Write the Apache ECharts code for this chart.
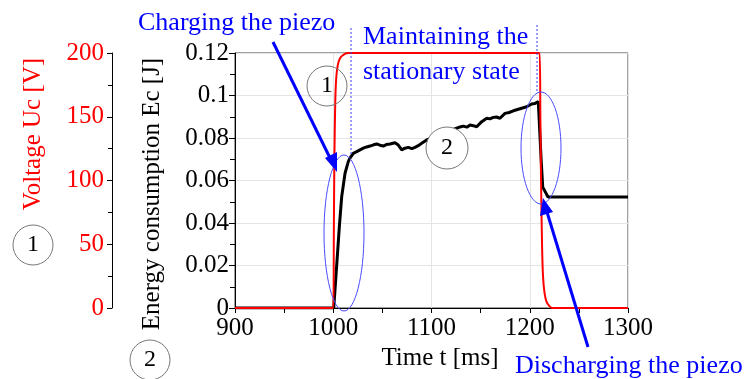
<!DOCTYPE html>
<html>
<head>
<meta charset="utf-8">
<script src="https://cdn.jsdelivr.net/npm/echarts@6/dist/echarts.min.js"></script>
<style>
  html, body { margin: 0; padding: 0; background: #fff; }
  #chart { width: 744px; height: 379px; }
</style>
</head>
<body>
<div id="chart"></div>
<script>
// time [ms] and voltage Uc [V]
const voltTime = [900, 1000, 1000.6, 1001.2, 1002, 1003, 1004.5, 1007, 1011, 1016,
  1210, 1210.8, 1211.5, 1212.5, 1213.5, 1215, 1217, 1220, 1223, 1300];
const voltValue = [0, 0, 60, 120, 160, 180, 190, 196, 199, 200,
  200, 150, 100, 50, 25, 12, 5, 1.5, 0, 0];

// time [ms] and energy consumption Ec [J]
const energyTime = [900, 1000.5, 1001.8, 1004.1, 1006.2, 1008.6, 1012, 1015.3, 1017, 1020.4, 1023.9,
  1030.6, 1034, 1037.4, 1041, 1044.2, 1047.5, 1050.9, 1054, 1057.8, 1062.8, 1066.2, 1069.7, 1073,
  1076.4, 1080, 1083.2, 1086.5, 1090, 1095.1, 1110, 1125.6, 1129, 1132.4, 1136, 1139.2, 1142.5,
  1146, 1151.1, 1156.2, 1159.5, 1162.9, 1166, 1169.7, 1174.8, 1179, 1183.3, 1187.5, 1191.8,
  1196.9, 1202, 1205, 1208.7, 1210.4, 1211.5, 1213.2, 1218.6, 1300];
const energyValue = [0, 0, 0.0006, 0.0241, 0.0383, 0.0524, 0.0634, 0.0689, 0.0705, 0.0728, 0.0736,
  0.0752, 0.0758, 0.0762, 0.0768, 0.0772, 0.0766, 0.0762, 0.0769, 0.0772, 0.0778, 0.0767, 0.0744, 0.0752,
  0.0756, 0.0750, 0.0756, 0.0764, 0.0775, 0.0791, 0.0818, 0.0846, 0.0852, 0.0856, 0.0851, 0.0861, 0.0858,
  0.0853, 0.0877, 0.0893, 0.0890, 0.0897, 0.0899, 0.0893, 0.0916, 0.0920, 0.0928, 0.0934, 0.0940,
  0.0947, 0.0960, 0.0962, 0.0971, 0.0966, 0.0706, 0.0569, 0.0522, 0.0522];

const xTicks = [900, 1300, 100];
const energyTicks = [0, 0.12, 0.02];
const voltTicks = [0, 200, 50];

const FONT = 'Liberation Serif';
const pairs = (xs, ys) => xs.map((x, i) => [x, ys[i]]);

const chart = echarts.init(document.getElementById('chart'));

chart.setOption({
  animation: false,
  textStyle: { fontFamily: FONT },
  grid: {
    left: 235, right: 116, top: 53, bottom: 71,
    show: true, borderColor: '#444', borderWidth: 1
  },
  xAxis: {
    type: 'value',
    min: xTicks[0], max: xTicks[1], interval: xTicks[2],
    axisLine: { lineStyle: { color: '#000', width: 1 } },
    axisTick: { length: 5, lineStyle: { color: '#000' } },
    minorTick: { show: true, splitNumber: 2, length: 5, lineStyle: { color: '#000' } },
    axisLabel: { color: '#000', fontSize: 25, fontFamily: FONT, margin: 8, formatter: v => String(v) },
    splitLine: { lineStyle: { color: '#e4e4e4' } }
  },
  yAxis: [
    {
      type: 'value',
      position: 'left',
      min: energyTicks[0], max: energyTicks[1], interval: energyTicks[2],
      axisLine: { show: true, lineStyle: { color: '#000', width: 1 } },
      axisTick: { show: true, length: 6, lineStyle: { color: '#000' } },
      minorTick: { show: true, splitNumber: 2, length: 5, lineStyle: { color: '#000' } },
      axisLabel: { color: '#000', fontSize: 25, fontFamily: FONT, margin: 6 },
      splitLine: { lineStyle: { color: '#e4e4e4' } }
    },
    {
      type: 'value',
      position: 'left',
      offset: 123,
      min: voltTicks[0], max: voltTicks[1], interval: voltTicks[2],
      axisLine: { show: true, lineStyle: { color: '#000', width: 1 } },
      axisTick: { show: true, length: 5, lineStyle: { color: '#000' } },
      minorTick: { show: true, splitNumber: 2, length: 4, lineStyle: { color: '#000' } },
      axisLabel: { color: '#ff0000', fontSize: 25, fontFamily: FONT, margin: 8 },
      splitLine: { show: false }
    }
  ],
  series: [
    {
      name: 'Energy',
      type: 'line',
      yAxisIndex: 0,
      data: pairs(energyTime, energyValue),
      showSymbol: false,
      lineStyle: { color: '#000', width: 3 },
      z: 2
    },
    {
      name: 'Voltage',
      type: 'line',
      yAxisIndex: 1,
      data: pairs(voltTime, voltValue),
      showSymbol: false,
      smooth: 0.3,
      lineStyle: { color: '#ff0000', width: 2 },
      z: 3
    }
  ],
  graphic: [
    // axis titles
    { type: 'text', x: 33, y: 134, rotation: Math.PI / 2, z: 10,
      style: { text: 'Voltage Uc [V]', font: '25px ' + FONT, fill: '#ff0000', align: 'center', verticalAlign: 'middle' } },
    { type: 'text', x: 152, y: 194, rotation: Math.PI / 2, z: 10,
      style: { text: 'Energy consumption Ec [J]', font: '25px ' + FONT, fill: '#000', align: 'center', verticalAlign: 'middle' } },
    { type: 'text', x: 440, y: 358, z: 10,
      style: { text: 'Time t [ms]', font: '25px ' + FONT, fill: '#000', align: 'center', verticalAlign: 'middle' } },

    // circled numbers
    { type: 'circle', shape: { cx: 33, cy: 245, r: 20 }, z: 10, style: { fill: 'transparent', stroke: '#777', lineWidth: 1 } },
    { type: 'text', x: 33, y: 245, z: 11, style: { text: '1', font: '24px ' + FONT, fill: '#000', align: 'center', verticalAlign: 'middle' } },
    { type: 'circle', shape: { cx: 150, cy: 360, r: 20 }, z: 10, style: { fill: 'transparent', stroke: '#777', lineWidth: 1 } },
    { type: 'text', x: 150, y: 360, z: 11, style: { text: '2', font: '24px ' + FONT, fill: '#000', align: 'center', verticalAlign: 'middle' } },
    { type: 'circle', shape: { cx: 327, cy: 86, r: 20 }, z: 10, style: { fill: 'transparent', stroke: '#777', lineWidth: 1 } },
    { type: 'text', x: 327, y: 86, z: 11, style: { text: '1', font: '24px ' + FONT, fill: '#000', align: 'center', verticalAlign: 'middle' } },
    { type: 'circle', shape: { cx: 447, cy: 148, r: 21 }, z: 10, style: { fill: '#fff', stroke: '#777', lineWidth: 1 } },
    { type: 'text', x: 447, y: 148, z: 11, style: { text: '2', font: '24px ' + FONT, fill: '#000', align: 'center', verticalAlign: 'middle' } },

    // ellipses
    { type: 'ellipse', shape: { cx: 344, cy: 233, rx: 20, ry: 78 }, z: 10, style: { fill: 'transparent', stroke: '#4a4aff', lineWidth: 1 } },
    { type: 'ellipse', shape: { cx: 541, cy: 148, rx: 20, ry: 56 }, z: 10, style: { fill: 'transparent', stroke: '#4a4aff', lineWidth: 1 } },

    // dotted markers
    { type: 'line', shape: { x1: 351, y1: 28, x2: 351, y2: 155 }, z: 9, style: { stroke: '#3b3bff', lineWidth: 1, lineDash: [2, 2] } },
    { type: 'line', shape: { x1: 537, y1: 25, x2: 537, y2: 92 }, z: 9, style: { stroke: '#3b3bff', lineWidth: 1, lineDash: [2, 2] } },

    // annotation texts
    { type: 'text', x: 138, y: 23, z: 10, style: { text: 'Charging the piezo', font: '26px ' + FONT, fill: '#0000ff', align: 'left', verticalAlign: 'middle' } },
    { type: 'text', x: 363, y: 37, z: 10, style: { text: 'Maintaining the', font: '26px ' + FONT, fill: '#0000ff', align: 'left', verticalAlign: 'middle' } },
    { type: 'text', x: 363, y: 72, z: 10, style: { text: 'stationary state', font: '26px ' + FONT, fill: '#0000ff', align: 'left', verticalAlign: 'middle' } },
    { type: 'text', x: 515, y: 366, z: 10, style: { text: 'Discharging the piezo', font: '26px ' + FONT, fill: '#0000ff', align: 'left', verticalAlign: 'middle' } },

    // arrows
    { type: 'line', shape: { x1: 273, y1: 42, x2: 331, y2: 160 }, z: 12, style: { stroke: '#0000ff', lineWidth: 3 } },
    { type: 'polygon', shape: { points: [[337, 172], [325, 158], [337, 152]] }, z: 12, style: { fill: '#0000ff' } },
    { type: 'line', shape: { x1: 588, y1: 347, x2: 547, y2: 212 }, z: 12, style: { stroke: '#0000ff', lineWidth: 3 } },
    { type: 'polygon', shape: { points: [[543, 198], [540, 216], [553, 212]] }, z: 12, style: { fill: '#0000ff' } }
  ]
});
</script>
</body>
</html>
